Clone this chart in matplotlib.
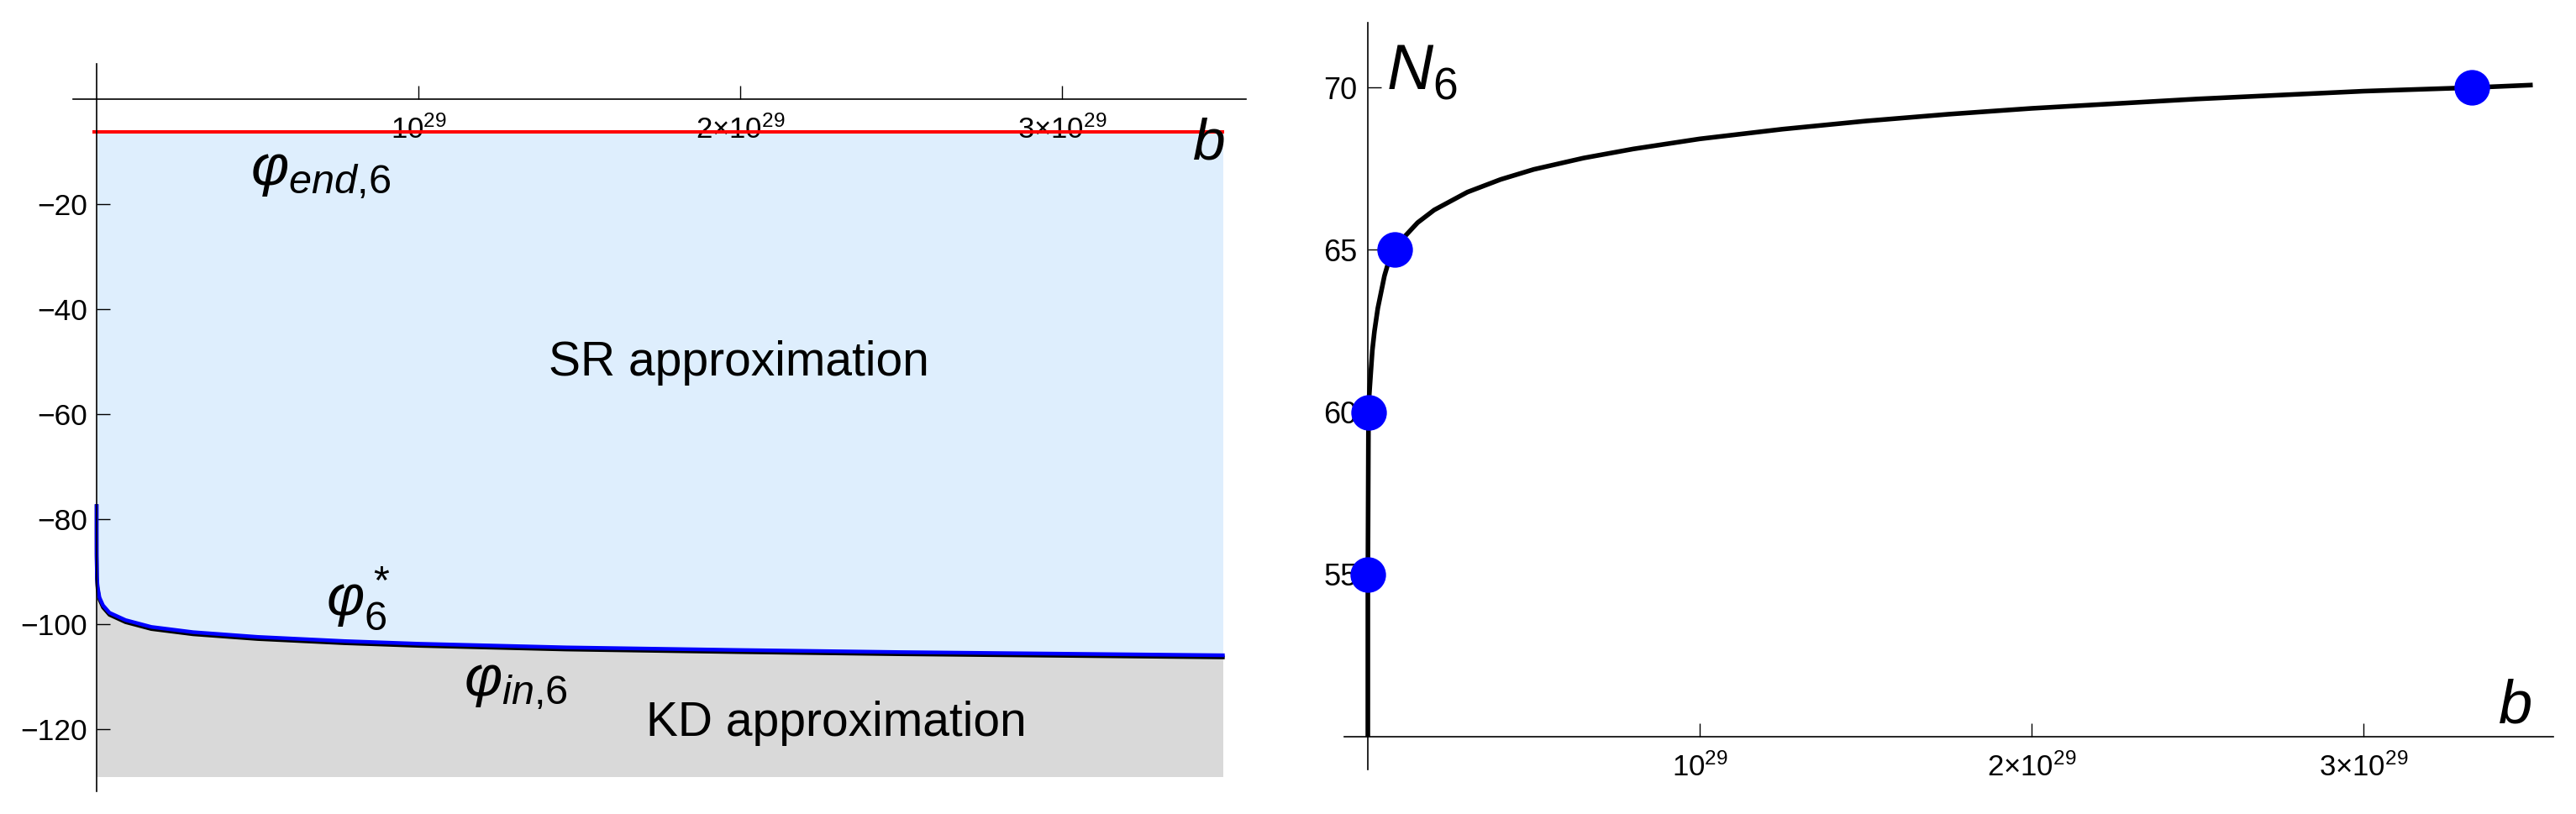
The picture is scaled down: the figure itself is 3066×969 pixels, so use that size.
import numpy as np
import matplotlib
matplotlib.use('Agg')
import matplotlib.pyplot as plt

plt.rcParams['font.family'] = ['Liberation Sans', 'DejaVu Sans']
plt.rcParams['mathtext.fontset'] = 'custom'
plt.rcParams['mathtext.rm'] = 'Liberation Sans'
plt.rcParams['mathtext.it'] = 'Liberation Sans:italic'
plt.rcParams['mathtext.bf'] = 'Liberation Sans:bold'

# b is given in units of 10^29
b_phi = [0, 0.00001, 0.0001, 0.001, 0.003, 0.009, 0.02, 0.04, 0.09, 0.17, 0.3, 0.5, 0.77, 1.0, 1.46, 2.0, 2.5, 3.0, 3.5]
phi_star = [-77.5, -82.4, -86.6, -90.8, -92.8, -94.9, -96.4, -97.8, -99.2, -100.5, -101.5, -102.4, -103.2, -103.7, -104.4, -104.9, -105.3, -105.6, -105.9]
phi_in = [-77.5, -82.8, -87.0, -91.2, -93.2, -95.3, -96.8, -98.2, -99.6, -100.9, -101.9, -102.8, -103.6, -104.1, -104.8, -105.3, -105.7, -106.0, -106.3]
phi_end = -6.2
phi_floor = -129.0

b_ticks = [1, 2, 3]
b_tick_labels = [r'$10^{29}$', r'$2{\times}10^{29}$', r'$3{\times}10^{29}$']
phi_ticks = [-20, -40, -60, -80, -100, -120]

b_N = [0, 0.00005, 0.002, 0.004, 0.0076, 0.0135, 0.02, 0.03, 0.05, 0.06, 0.081, 0.1, 0.15, 0.2, 0.3, 0.4, 0.5,
       0.65, 0.8, 1.0, 1.25, 1.5, 1.75, 2.0, 2.5, 3.0, 3.327, 3.51]
N_6 = [50, 55, 60, 60.5, 61.04, 61.9, 62.5, 63.2, 64.2, 64.55, 65.0, 65.29, 65.84, 66.23, 66.78, 67.17, 67.48,
       67.83, 68.11, 68.42, 68.72, 68.97, 69.18, 69.36, 69.65, 69.89, 70.0, 70.08]
b_dots = [0, 0.002, 0.081, 3.327]
N_dots = [55, 60, 65, 70]
N_ticks = [55, 60, 65, 70]

fig = plt.figure(figsize=(30.66, 9.69), dpi=100)
ax1 = fig.add_axes([0.02838, 0.02786, 0.45532, 0.89370])
ax2 = fig.add_axes([0.52185, 0.05501, 0.46934, 0.91713])

# left panel
ax1.fill_between(b_phi, phi_star, phi_end, color='#DEEEFD', lw=0, zorder=1)
ax1.fill_between(b_phi, phi_floor, phi_in, color='#D9D9D9', lw=0, zorder=1)
ax1.plot([-0.008, 3.5], [phi_end, phi_end], color='#FF0000', lw=2.9, zorder=2)
ax1.plot(b_phi, phi_in, color='black', lw=3.2, zorder=2)
ax1.plot(b_phi, phi_star, color='#0000FF', lw=3.2, zorder=2)
ax1.set_xlim(-0.073, 3.572)
ax1.set_ylim(-131.8, 6.7)

ax1.text(0.478, -16.3, r'$\varphi_{\mathit{end{,}6}}$', fontsize=50, ha='left', va='baseline')
ax1.text(0.713, -98.2, r'$\varphi_6^*$', fontsize=50, ha='left', va='baseline')
ax1.text(1.141, -113.6, r'$\varphi_{\mathit{in{,}6}}$', fontsize=50, ha='left', va='baseline')
ax1.text(1.997, -52.6, 'SR approximation', fontsize=41, ha='center', va='baseline')
ax1.text(2.30, -121.3, 'KD approximation', fontsize=41, ha='center', va='baseline')
ax1.text(3.405, -11.5, r'$b$', fontsize=50, ha='left', va='baseline')

# right panel
ax2.plot(b_N, N_6, color='black', lw=4, zorder=3, solid_capstyle='butt')
ax2.plot(b_dots, N_dots, 'o', ms=30.5, color='#0000FF', mec='none', clip_on=False, zorder=4)
ax2.set_xlim(-0.071, 3.572)
ax2.set_ylim(49.0, 72.0)
ax2.text(0.056, 69.94, r'$N_6$', fontsize=55, ha='left', va='baseline')
ax2.text(3.405, 50.44, r'$b$', fontsize=52, ha='left', va='baseline')

for ax, y0, ylab in [(ax1, 0, phi_ticks), (ax2, 50, N_ticks)]:
    ax.patch.set_visible(False)
    ax.spines['top'].set_visible(False)
    ax.spines['right'].set_visible(False)
    ax.spines['left'].set_position(('data', 0))
    ax.spines['bottom'].set_position(('data', y0))
    for s in ['left', 'bottom']:
        ax.spines[s].set_linewidth(1.2)
        ax.spines[s].set_zorder(2.5)
    ax.set_xticks(b_ticks)
    ax.set_xticklabels(b_tick_labels)
    ax.set_yticks(ylab)
    ax.tick_params(direction='in', length=11.5, width=1.0)
    ax.tick_params(axis='x', labelsize=25, pad=14)

ax1.tick_params(axis='y', labelsize=25.5, pad=8)
ax2.tick_params(axis='y', labelsize=26, pad=9)

fig.savefig('out.png', dpi=100)
